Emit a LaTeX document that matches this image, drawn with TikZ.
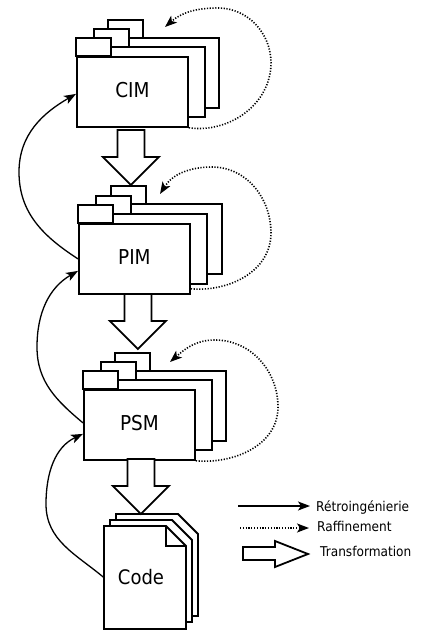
\documentclass[tikz,border=0pt]{standalone}
\usepackage{fontspec}
\setmainfont{DejaVu Sans}
\usetikzlibrary{arrows.meta,calc}

% folder drawn behind the front one: tab above, body below (left x, body top y)
\newcommand\folderback[2]{%
  \draw[box] (#1,-#2) ++(0,18) rectangle ++(35,-18);
  \draw[box] (#1,-#2) rectangle ++(111,-70);}
% tab of the front folder
\newcommand\foldertab[2]{\draw[box] (#1,-#2) ++(0,18) rectangle ++(35,-18);}
% slightly narrowed lettering
\newcommand\narrow[1]{\scalebox{0.9}[1]{#1}}

\begin{document}
\begin{tikzpicture}[x=1pt,y=1pt,
  box/.style={draw=black, line width=1.8pt, fill=white, line join=miter},
  body/.style={box, anchor=north west, minimum width=111pt, minimum height=70pt,
    inner sep=0pt, text depth=4pt, font=\fontsize{20.5}{24}\selectfont},
  retro/.style={line width=1.3pt, -{Stealth[length=12pt,width=9pt,inset=3pt]}},
  raff/.style={line width=1.6pt, dash pattern=on 1.2pt off 1.6pt,
    -{Stealth[length=12pt,width=9pt,inset=3pt]}},
  lbl/.style={anchor=base west, inner sep=0pt, font=\fontsize{13.5}{16}\selectfont},
  transf/.pic={\draw[box] (-13.5,0) -- (-13.5,-27) -- (-28,-27) -- (0,-55)
    -- (28,-27) -- (13.5,-27) -- (13.5,0) -- cycle;},
]
\useasboundingbox (0,0) rectangle (422,-632);

% CIM stack
\folderback{108}{38}
\folderback{94}{47}
\foldertab{76}{56}
\node[body] (cim) at (76,-56) {\narrow{CIM}};

% PIM stack
\folderback{111}{204}
\folderback{96}{214}
\foldertab{78}{223}
\node[body] (pim) at (78,-223) {\narrow{PIM}};

% PSM stack
\folderback{115}{371}
\folderback{101}{380}
\foldertab{83}{389}
\node[body] (psm) at (83,-389) {\narrow{PSM}};

% Code pages with folded corner
\draw[box] (116,-514) -- (178,-514) -- (198,-534) -- (198,-616) -- (116,-616) -- cycle;
\draw[box] (110,-520) -- (172,-520) -- (192,-540) -- (192,-622) -- (110,-622) -- cycle;
\draw[box] (104,-526) -- (166,-526) -- (186,-546) -- (186,-629) -- (104,-629) -- cycle;
\draw[box, fill=none] (166,-526) |- (186,-546);
\node[minimum width=82pt, minimum height=103pt, inner sep=0pt, text depth=1pt,
  font=\fontsize{20}{24}\selectfont] (code) at (145,-577.5) {\hspace*{-8pt}\narrow{Code}};

% transformations
\pic at ($(cim.south)+(-1.5,-2.2)$) {transf};
\pic at ($(pim.south)+(3.5,0.8)$) {transf};
\pic at ($(psm.south)+(1.5,1.8)$) {transf};

% refinement loops
\coordinate (cimloop) at (165,-27);
\coordinate (pimloop) at (160,-194);
\coordinate (psmloop) at (170,-362);
\draw[raff] (cim.south east) to[out=-8,in=-90] (271,-63) to[out=90,in=0] (218,-8)
  to[out=180,in=41] (cimloop);
\draw[raff] ([yshift=6pt]pim.south east) to[out=-5,in=-90] (271,-233)
  to[out=90,in=0] (212,-167) to[out=180,in=58] (pimloop);
\draw[raff] (psm.south east) to[out=-5,in=-90] (278,-407) to[out=90,in=0] (215,-340)
  to[out=180,in=41] (psmloop);

% reverse engineering
\draw[retro] (pim.west) to[out=147,in=-90] (19,-172) to[out=90,in=210] ([yshift=-2pt]cim.west);
\draw[retro] ([yshift=2pt]psm.west) to[out=140,in=-90] (37,-347) to[out=90,in=210] ([yshift=-12pt]pim.west);
\draw[retro] (code.west) to[out=140,in=-90] (46,-504) to[out=90,in=205] ([yshift=-9pt]psm.west);

% legend
\coordinate (r0) at (238,-506);
\coordinate (r1) at (310,-506);
\draw[retro] (r0) -- (r1);
\node[lbl] (tr) at (316,-511) {\narrow{Rétroingénierie}};
\coordinate (f0) at (240,-528);
\coordinate (f1) at (309,-528);
\draw[raff] (f0) -- (f1);
\node[lbl] (tf) at (317,-531) {\narrow{Raffinement}};
\draw[box] (243,-547) -- (275,-547) -- (275,-541) -- (308,-554) -- (275,-567)
  -- (275,-560) -- (243,-560) -- cycle;
\node[lbl] (tt) at (320,-556) {\narrow{Transformation}};
\end{tikzpicture}
\end{document}
